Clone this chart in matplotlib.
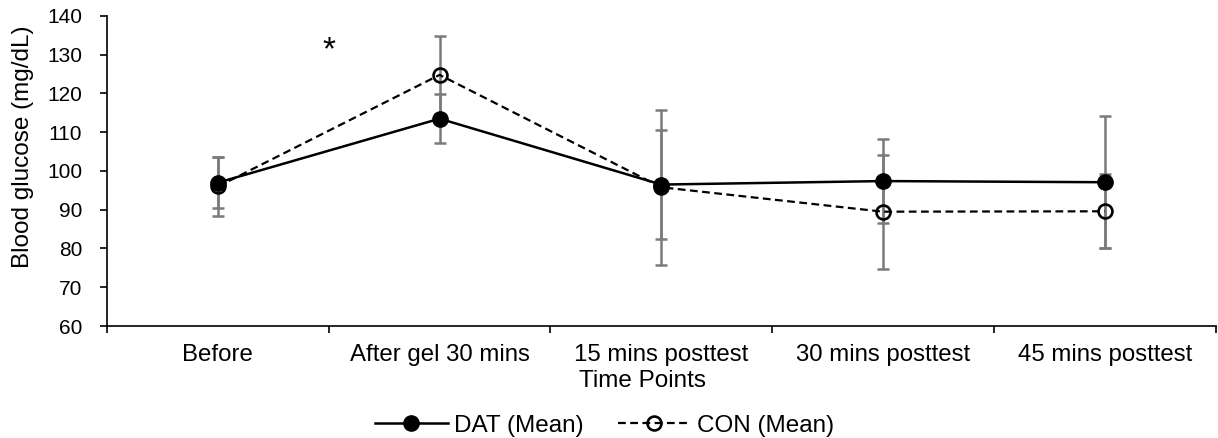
import matplotlib.pyplot as plt
import numpy as np

plt.rcParams['font.family'] = ['Liberation Sans', 'DejaVu Sans']

time_points = ['Before', 'After gel 30 mins', '15 mins posttest', '30 mins posttest', '45 mins posttest']
dat_mean = [97.0, 113.5, 96.5, 97.4, 97.1]
dat_sd = [6.5, 6.3, 14.0, 10.8, 17.0]
con_mean = [96.0, 124.8, 95.8, 89.5, 89.6]
con_sd = [7.5, 10.0, 20.0, 14.7, 9.6]

x = np.arange(len(time_points))

fig = plt.figure(figsize=(12.18, 4.38), dpi=100)
ax = fig.add_axes([0.0879, 0.2557, 0.9101, 0.7078])

err_color = '#7a7a7a'
ax.errorbar(x, dat_mean, yerr=dat_sd, fmt='none', ecolor=err_color, elinewidth=1.8,
            capsize=4.5, capthick=1.8, zorder=2)
ax.errorbar(x, con_mean, yerr=con_sd, fmt='none', ecolor=err_color, elinewidth=1.8,
            capsize=4.5, capthick=1.8, zorder=2)

ax.plot(x, dat_mean, color='black', linestyle='-', linewidth=1.8, marker='o',
        markersize=11, markerfacecolor='black', label='DAT (Mean)', zorder=3)
ax.plot(x, con_mean, color='black', linestyle=(0, (3.5, 2)), linewidth=1.6, marker='o',
        markersize=10, markerfacecolor='none', markeredgewidth=1.9,
        label='CON (Mean)', zorder=3)

# significance mark between the first two time points
ax.text(0.5, 131.0, '*', ha='center', va='center', fontsize=24)

ax.set_xlim(-0.5, len(time_points) - 0.5)
ax.set_ylim(60, 140)
ax.set_yticks(np.arange(60, 141, 10))
ax.set_xticks(x)
ax.set_xticklabels(time_points)
ax.set_xticks(np.arange(-0.5, len(time_points)), minor=True)
ax.tick_params(axis='x', which='major', length=0, pad=13, labelsize=17.3)
ax.tick_params(axis='x', which='minor', length=5, width=1.2)
ax.tick_params(axis='y', length=5, width=1.2, labelsize=15, pad=13)

for side in ['top', 'right']:
    ax.spines[side].set_visible(False)
for side in ['left', 'bottom']:
    ax.spines[side].set_linewidth(1.2)

ax.set_ylabel('Blood glucose (mg/dL)', fontsize=17.5)
ax.yaxis.set_label_coords(-0.066, 0.577)
ax.set_xlabel('Time Points', fontsize=17.5, va='top')
ax.xaxis.set_label_coords(0.483, -0.142)

ax.legend(loc='center', bbox_to_anchor=(0.4486, -0.322), ncol=2, frameon=False,
          fontsize=17.5, handlelength=3.0, columnspacing=1.4, handletextpad=0.25)

fig.savefig('out.png', dpi=100)
